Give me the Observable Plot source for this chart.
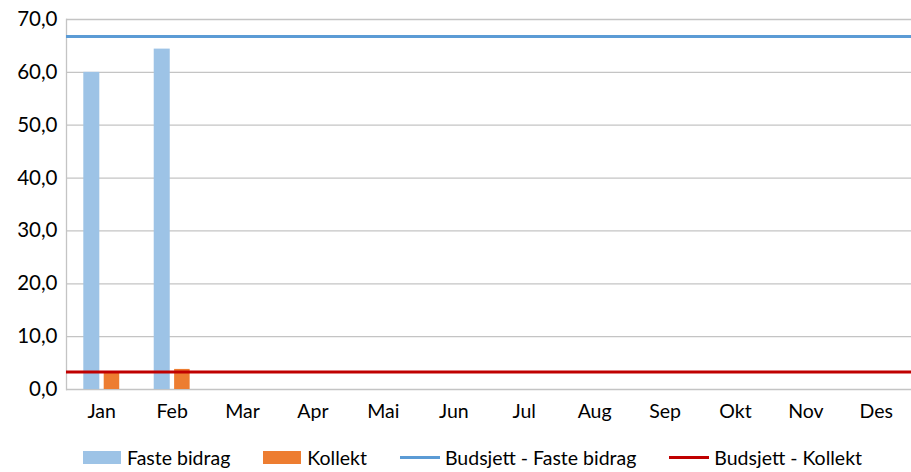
<!DOCTYPE html>
<html>
<head>
<meta charset="utf-8">
<script src="https://cdn.jsdelivr.net/npm/d3@7"></script>
<script src="https://cdn.jsdelivr.net/npm/@observablehq/plot@0.6"></script>
<style>
  html, body { margin: 0; padding: 0; background: #fff; }
  body { width: 911px; height: 472px; overflow: hidden; font-family: Lato, "Open Sans", sans-serif; }
  #chart svg { display: block; }
  #chart svg g[aria-label="y-axis tick label"] { font-size: 20.5px; }
  .legend { display: flex; align-items: center; margin-left: 83px; margin-top: 16px; font-size: 19.5px; color: #000; }
  .item { display: flex; align-items: center; margin-right: 33px; }
  .sw { width: 38px; height: 13px; margin-right: 6px; }
  .ln { width: 40px; height: 3px; margin-right: 5px; }
</style>
</head>
<body>
<div id="chart"></div>
<div class="legend" id="legend"></div>
<script>
const months = ["Jan","Feb","Mar","Apr","Mai","Jun","Jul","Aug","Sep","Okt","Nov","Des"];
const fasteBidrag = [60.0, 64.4];
const kollekt = [3.2, 3.8];
const budsjettFaste = 66.8;
const budsjettKollekt = 3.3;
const yTicks = [0, 10, 20, 30, 40, 50, 60, 70];
const seriesNames = ["Faste bidrag", "Kollekt", "Budsjett - Faste bidrag", "Budsjett - Kollekt"];
const colors = ["#9DC3E6", "#ED7D31", "#5B9BD5", "#C00000"];

const fasteRows = fasteBidrag.map((v, i) => ({month: months[i], value: v}));
const kollektRows = kollekt.map((v, i) => ({month: months[i], value: v}));

const fmt = d => d.toFixed(1).replace(".", ",");

const chart = Plot.plot({
  width: 911,
  height: 430,
  marginLeft: 66,
  marginRight: 0,
  marginTop: 19,
  marginBottom: 41,
  style: {fontFamily: "Lato, 'Open Sans', sans-serif", fontSize: "19.5px", color: "#000", background: "#fff"},
  x: {domain: months, padding: 0, round: false, label: null, tickSize: 0, tickPadding: 15},
  y: {domain: [0, 70], ticks: 7, tickFormat: fmt, label: null, tickSize: 0, tickPadding: 9},
  marks: [
    Plot.ruleY(yTicks, {stroke: "#c4c4c4", strokeWidth: 1.3}),
    Plot.frame({anchor: "left", stroke: "#c4c4c4", strokeWidth: 1.3}),
    Plot.barY(fasteRows, {x: "month", y: "value", fill: colors[0], insetLeft: 17.3, insetRight: 37.1}),
    Plot.barY(kollektRows, {x: "month", y: "value", fill: colors[1], insetLeft: 37.7, insetRight: 17.2}),
    Plot.ruleY([budsjettFaste], {stroke: colors[2], strokeWidth: 3}),
    Plot.ruleY([budsjettKollekt], {stroke: colors[3], strokeWidth: 3})
  ]
});
document.getElementById("chart").appendChild(chart);

const legend = document.getElementById("legend");
seriesNames.forEach((name, i) => {
  const item = document.createElement("div");
  item.className = "item";
  const mk = document.createElement("div");
  mk.className = i < 2 ? "sw" : "ln";
  mk.style.background = colors[i];
  const t = document.createElement("span");
  t.textContent = name;
  item.appendChild(mk);
  item.appendChild(t);
  legend.appendChild(item);
});
</script>
</body>
</html>
